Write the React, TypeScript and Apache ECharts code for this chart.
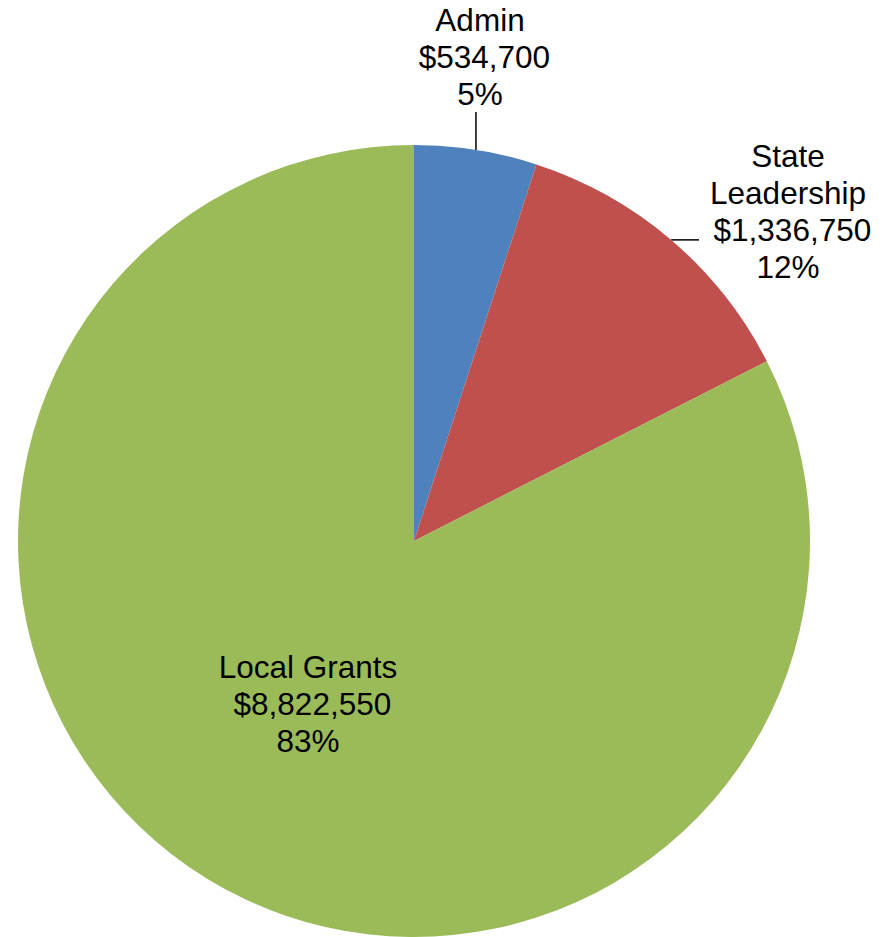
import React, { useEffect, useRef } from "react";
import * as echarts from "echarts";

const categories = ["Admin", "State Leadership", "Local Grants"];
const labelNames = ["Admin", "State\nLeadership", "Local Grants"];
const values = [534700, 1336750, 8822550];
const valueLabels = [" $534,700", " $1,336,750", " $8,822,550"];
const percentLabels = ["5%", "12%", "83%"];
const colors = ["#4F81BD", "#C0504D", "#9BBB59"];

export default function App() {
  const ref = useRef<HTMLDivElement>(null);
  useEffect(() => {
    if (!ref.current) return;
    const chart = echarts.init(ref.current, undefined, { renderer: "svg" });
    const data = categories.map((c, i) => ({
      name: c,
      value: values[i],
      itemStyle: { color: colors[i] },
      label: i === 2 ? { position: "inside" } : { position: "outside" },
      labelLine: { show: i !== 2 },
    }));
    chart.setOption({
      animation: false,
      backgroundColor: "#ffffff",
      series: [
        {
          type: "pie",
          center: [414, 541],
          radius: 396,
          startAngle: 90,
          clockwise: true,
          silent: true,
          avoidLabelOverlap: false,
          emphasis: { disabled: true },
          itemStyle: { borderWidth: 0 },
          data,
          label: {
            show: true,
            color: "#000000",
            fontFamily: "Liberation Sans, Arial, sans-serif",
            fontSize: 31.5,
            lineHeight: 37,
            align: "center",
            formatter: (p: any) =>
              `${labelNames[p.dataIndex]}\n${valueLabels[p.dataIndex]}\n${percentLabels[p.dataIndex]}`,
          },
          labelLine: {
            show: true,
            lineStyle: { color: "#000000", width: 1.5 },
          },
          labelLayout: (params: any) => {
            const i = params.dataIndex;
            const pts = params.labelLinePoints;
            if (i === 0) {
              const s = pts ? pts[0] : [476, 150];
              return {
                x: 480,
                y: 57,
                align: "center",
                verticalAlign: "middle",
                labelLinePoints: [s, [s[0], 112], [s[0], 112]],
              };
            }
            if (i === 1) {
              const s = pts ? pts[0] : [671, 240];
              return {
                x: 788,
                y: 211,
                align: "center",
                verticalAlign: "middle",
                labelLinePoints: [s, [699, s[1]], [699, s[1]]],
              };
            }
            return { x: 308, y: 704, align: "center", verticalAlign: "middle" };
          },
        },
      ],
    });
    return () => chart.dispose();
  }, []);
  return (
    <div
      ref={ref}
      style={{ position: "fixed", left: 0, top: 0, width: 896, height: 937 }}
    />
  );
}
